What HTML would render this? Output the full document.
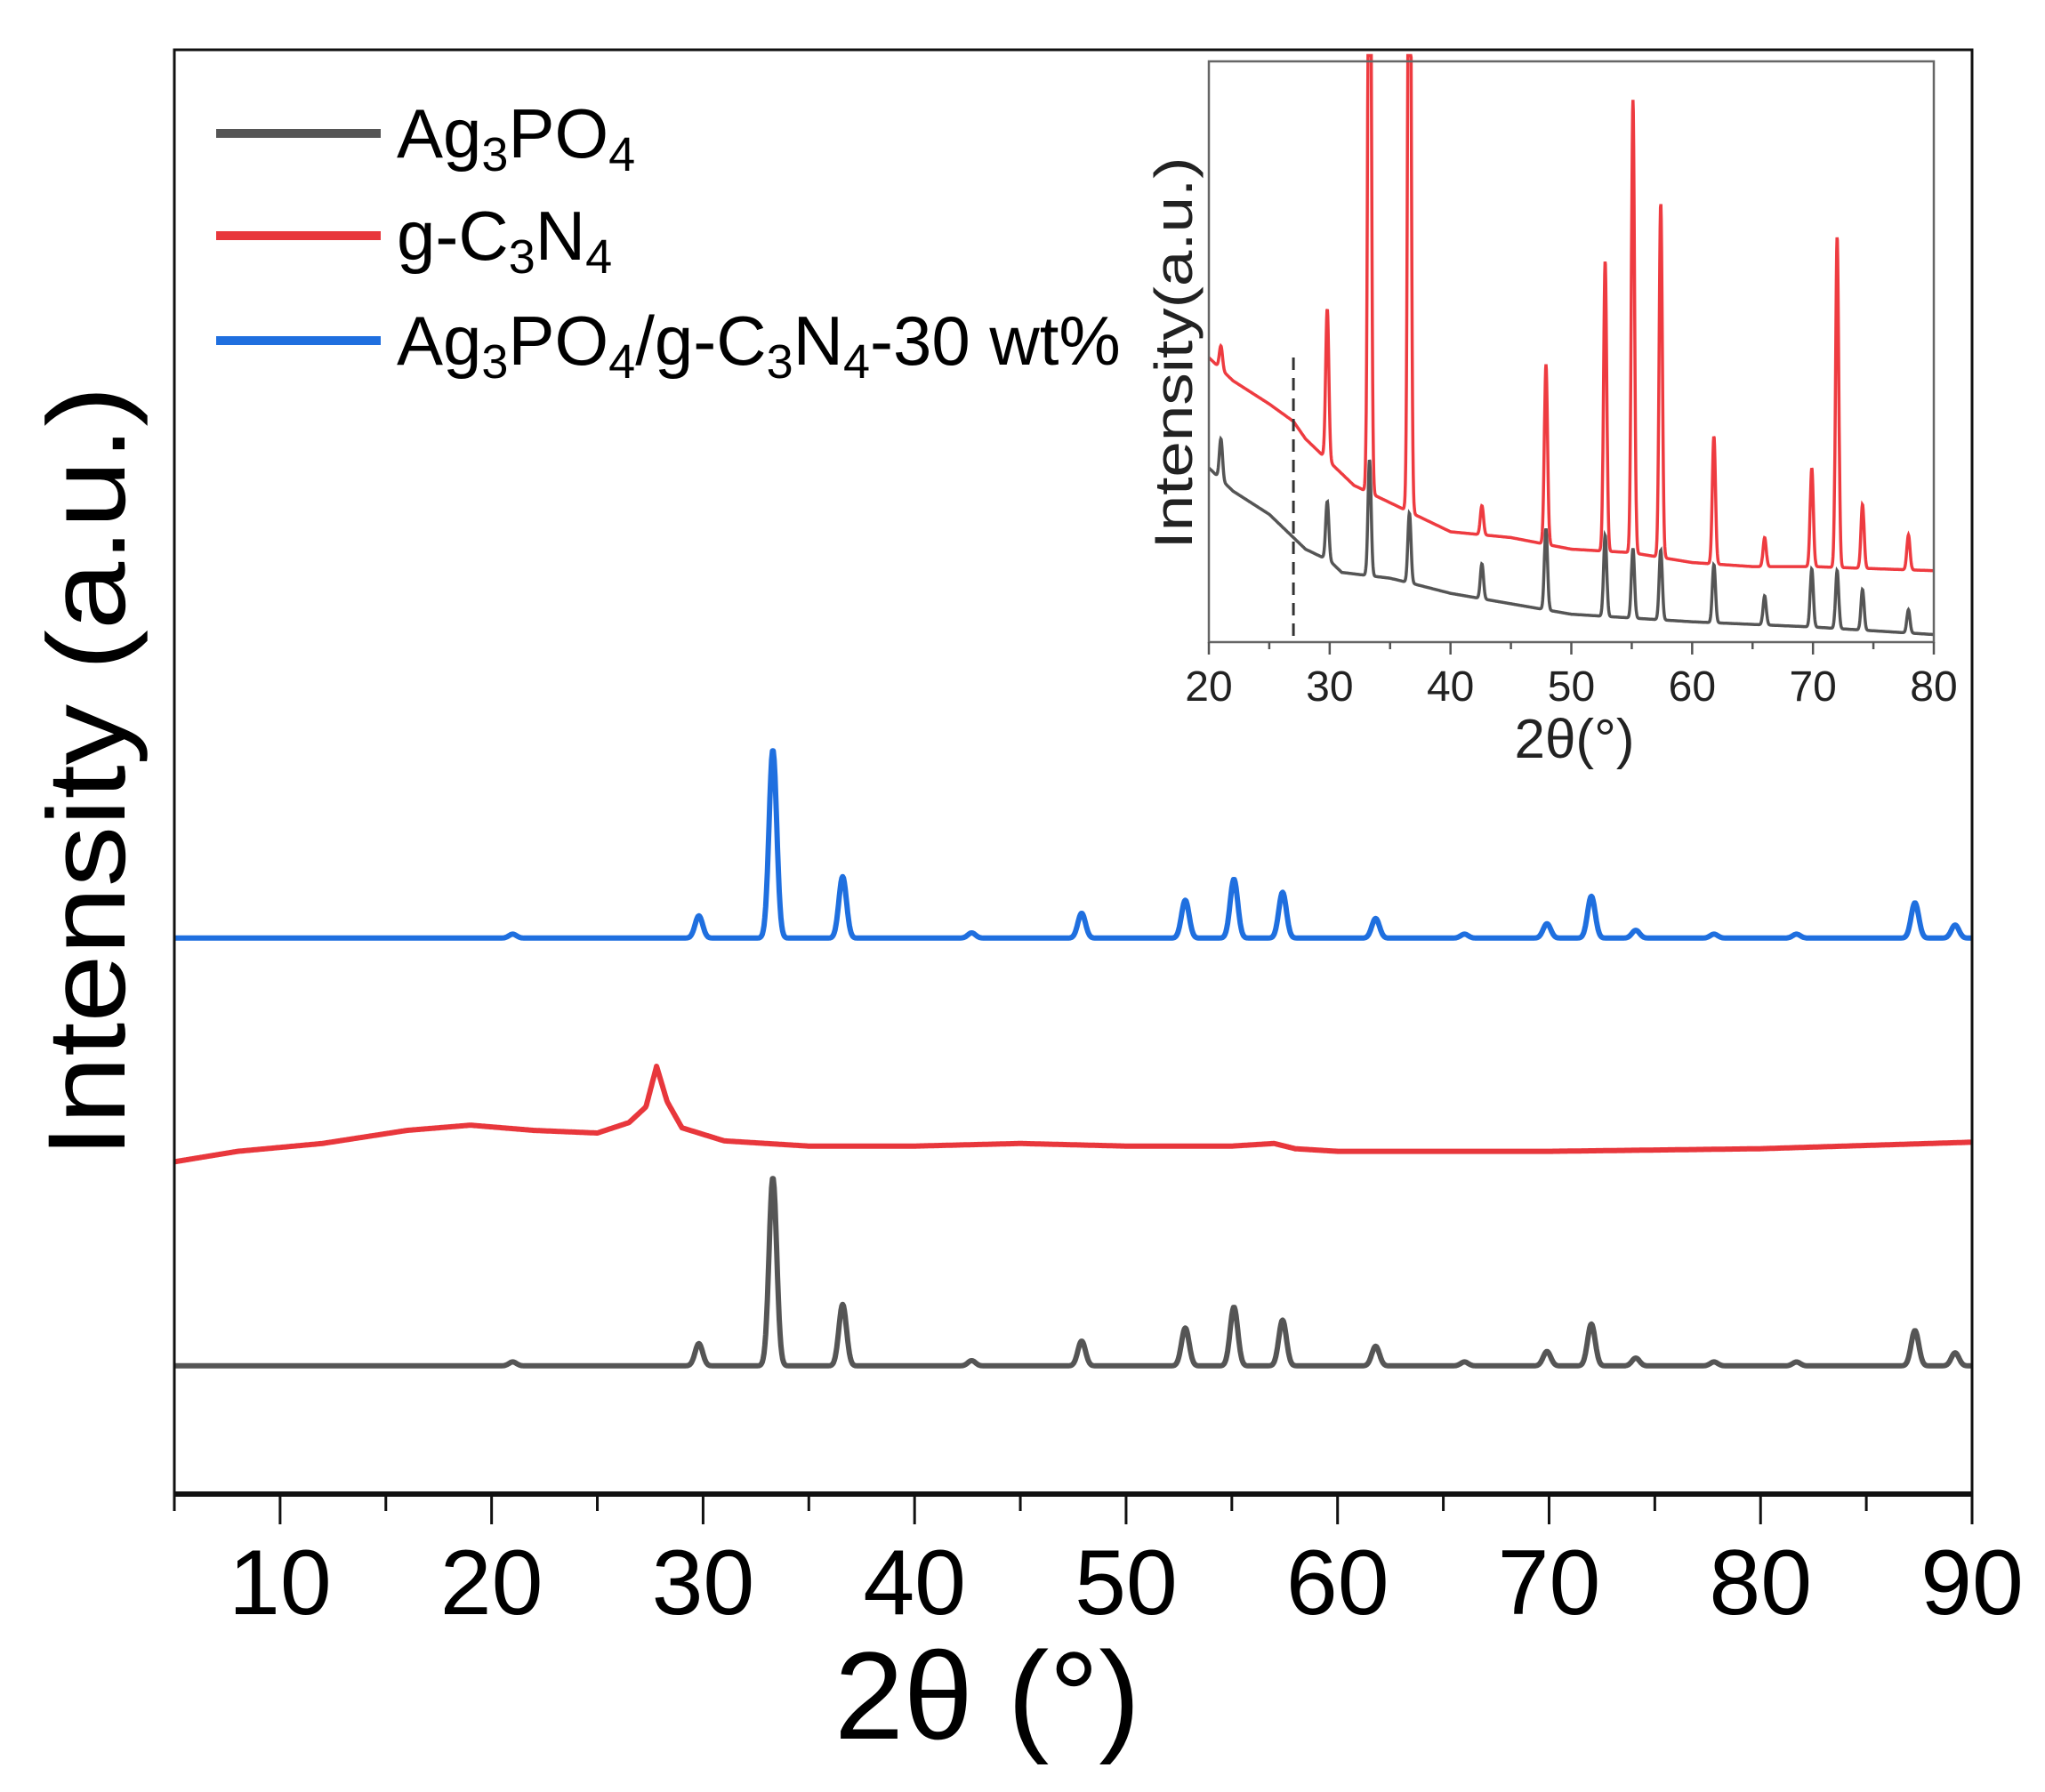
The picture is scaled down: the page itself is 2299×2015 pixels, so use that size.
<!DOCTYPE html>
<html><head><meta charset="utf-8"><style>
html,body{margin:0;padding:0;background:#fff;}
svg{display:block;font-family:"Liberation Sans",Arial,sans-serif;}
</style></head><body>
<svg id="chart" width="2299" height="2015" viewBox="0 0 2299 2015">
<rect width="2299" height="2015" fill="#fff"/>
<g id="main"></g>
<g id="inset"></g>
</svg>
<script>
// ---- main chart data ----
const xTicks = [10,20,30,40,50,60,70,80,90];
const peakPos = [21.0,29.8,33.3,36.6,42.7,47.9,52.8,55.1,57.4,61.8,66.0,69.9,72.0,74.1,77.8,81.7,87.3,89.2];
const agHeights = [3,17,144,47,4,19,29,45,35,15,3,11,32,6,3,3,27,10];
const compHeights = [3,17,144,47,4,19,29,45,35,15,3,11,32,6,3,3,27,10];
const agBase = 98;
const compBase = 425;
const redX = [5,8,12,16,19,22,25,26.5,27.3,27.8,28.3,29,31,35,40,45,50,55,57,58,60,65,70,80,90];
const redY = [254,262,268,278,282,278,276,284,296,327,300,280,270,266,266,268,266,266,268,264,262,262,262,264,269];
// ---- inset data ----
const insetXTicks = [20,30,40,50,60,70,80];
const insetPeakPos = [21.0,29.8,33.3,36.6,42.6,47.9,52.8,55.1,57.4,61.8,66.0,69.9,72.0,74.1,77.9];
const insetRedPeaks = [4,26,140,140,5,31,50,78,61,22,5,17,57,11,6];
const insetBlackPeaks = [7,10,20,12,6,14,14,12,12,10,5,10,10,7,4];
const insetRedBgX = [20,22,25,27,28,30,32,34,36,40,45,50,55,60,65,70,80];
const insetRedBgY = [49,45,41,38,35,31,27,25,23,19,18,16,15.4,13.7,13,13,12.3];
const insetBlackBgX = [20,22,25,27,28,30,31,33,35,37,40,45,50,60,70,80];
const insetBlackBgY = [30,26,22,18,16,14,12,11.5,11,10,8.4,6.6,4.8,3.5,2.6,1.3];

const NS="http://www.w3.org/2000/svg";
function el(tag,attrs,parent){const e=document.createElementNS(NS,tag);for(const k in attrs)e.setAttribute(k,attrs[k]);parent.appendChild(e);return e;}
function interp(xs,ys,x){if(x<=xs[0])return ys[0];for(let i=1;i<xs.length;i++){if(x<=xs[i]){const t=(x-xs[i-1])/(xs[i]-xs[i-1]);return ys[i-1]+t*(ys[i]-ys[i-1]);}}return ys[ys.length-1];}
function peaks(pos,h,x,w){let s=0;for(let i=0;i<pos.length;i++){const d=(x-pos[i])/w;s+=h[i]*Math.exp(-d*d/2);}return s;}

// main axes
const L=196,R=2217,T=56,B=1680;
const X=v=>L+(v-5)/(90-5)*(R-L);
const Y=v=>B-v*1.471;
const main=document.getElementById('main');
function series(baseFn,pos,h,color,name,w){
  let d='';for(let x=5;x<=90.001;x+=0.04){const v=baseFn(x)+(pos?peaks(pos,h,x,w):0);d+=(d?'L':'M')+X(x).toFixed(1)+','+Y(v).toFixed(1);}
  const p=el('path',{d:d,fill:'none',stroke:color,'stroke-width':6,'stroke-linejoin':'round'},main);
  
  
}
series(()=>agBase,peakPos,agHeights,'#555555','ag3po4-line',0.18);
series(x=>interp(redX,redY,x),null,null,'#e8373c','gc3n4-line',0.2);
series(()=>compBase,peakPos,compHeights,'#1f6fdf','composite-line',0.18);
// frame
const frame=el('rect',{x:L,y:T,width:R-L,height:B-T,fill:'none',stroke:'#111','stroke-width':3},main);


el('line',{x1:L,y1:B,x2:R,y2:B,stroke:'#111','stroke-width':6},main);
for(let v=5;v<=90;v+=5){const maj=v%10===0;el('line',{x1:X(v),y1:B,x2:X(v),y2:B+(maj?34:19),stroke:'#111','stroke-width':3},main);}
xTicks.forEach(v=>{const t=el('text',{x:X(v),y:1815,'text-anchor':'middle','font-size':104},main);t.textContent=v;
 
 });
const xt=el('text',{x:1110,y:1955,'text-anchor':'middle','font-size':140},main);xt.textContent='2θ (°)';


const yt=el('text',{x:0,y:0,'text-anchor':'middle','font-size':124,textLength:868,lengthAdjust:'spacingAndGlyphs',transform:'translate(140,868) rotate(-90)'},main);yt.textContent='Intensity (a.u.)';


// legend
const legColors=['#555555','#e8373c','#1f6fdf'];
const legY=[150,265,383];
const legHtml=['Ag<tspan font-size="54" dy="15">3</tspan><tspan dy="-15">PO</tspan><tspan font-size="54" dy="15">4</tspan>',
'g-C<tspan font-size="54" dy="15">3</tspan><tspan dy="-15">N</tspan><tspan font-size="54" dy="15">4</tspan>',
'Ag<tspan font-size="54" dy="15">3</tspan><tspan dy="-15">PO</tspan><tspan font-size="54" dy="15">4</tspan><tspan dy="-15">/g-C</tspan><tspan font-size="54" dy="15">3</tspan><tspan dy="-15">N</tspan><tspan font-size="54" dy="15">4</tspan><tspan dy="-15">-30 wt%</tspan>'];
const legNames=['legend-entry-ag3po4','legend-entry-gc3n4','legend-entry-composite'];
for(let i=0;i<3;i++){
 const g=el('g',{},main);
 
 
 el('line',{x1:243,y1:legY[i],x2:428,y2:legY[i],stroke:legColors[i],'stroke-width':10},g);
 const t=el('text',{x:446,y:legY[i]+27,'font-size':78},g);
 t.innerHTML=legHtml[i];
}
// inset
const inset=document.getElementById('inset');
const iL=1359,iR=2174,iT=69,iB=722;
const IX=v=>iL+(v-20)/60*(iR-iL);
const IY=v=>iB-v/100*(iB-iT);
function iseries(bx,by,pp,ph,color,name){
 let d='';for(let x=20;x<=80.001;x+=0.03){let v=interp(bx,by,x)+peaks(pp,ph,x,0.13);v=Math.min(v,101);d+=(d?'L':'M')+IX(x).toFixed(1)+','+IY(v).toFixed(1);}
 const p=el('path',{d:d,fill:'none',stroke:color,'stroke-width':3.5},inset);
 
 
}
iseries(insetBlackBgX,insetBlackBgY,insetPeakPos,insetBlackPeaks,'#555555','inset-ag3po4-line');
iseries(insetRedBgX,insetRedBgY,insetPeakPos,insetRedPeaks,'#ee3b40','inset-gc3n4-line');
const dl=el('line',{x1:IX(27),y1:IY(49),x2:IX(27),y2:iB,stroke:'#333','stroke-width':3,'stroke-dasharray':'14,9'},inset);


const ifr=el('rect',{x:iL,y:iT,width:iR-iL,height:iB-iT,fill:'none',stroke:'#666','stroke-width':2.5},inset);


for(let v=20;v<=80;v+=5){const maj=v%10===0;el('line',{x1:IX(v),y1:iB,x2:IX(v),y2:iB+(maj?14:8),stroke:'#555','stroke-width':2.5},inset);}
insetXTicks.forEach(v=>{const t=el('text',{x:IX(v),y:788,'text-anchor':'middle','font-size':48,fill:'#222'},inset);t.textContent=v;
 
 });
const ixt=el('text',{x:1770,y:852,'text-anchor':'middle','font-size':62,fill:'#222'},inset);ixt.textContent='2θ(°)';


const iyt=el('text',{x:0,y:0,'text-anchor':'middle','font-size':60,fill:'#222',textLength:441,lengthAdjust:'spacingAndGlyphs',transform:'translate(1340,397) rotate(-90)'},inset);iyt.textContent='Intensity(a.u.)';


</script>
</body></html>
